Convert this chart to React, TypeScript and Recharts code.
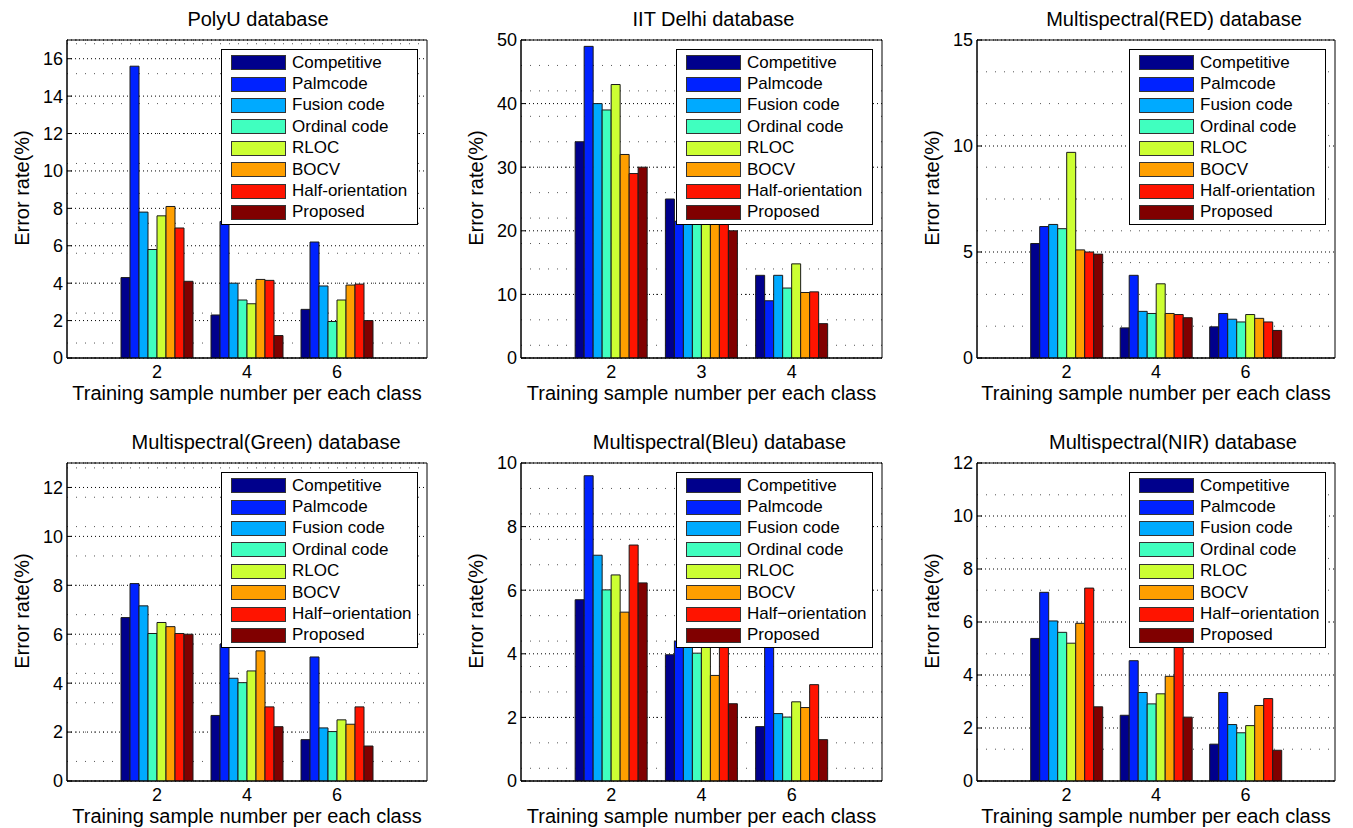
import React from 'react';
import { BarChart, Bar, XAxis, YAxis, CartesianGrid, Legend, ReferenceArea } from 'recharts';

const FONT = "'Liberation Sans', Arial, Helvetica, sans-serif";

const METHODS = ['Competitive', 'Palmcode', 'Fusion code', 'Ordinal code', 'RLOC', 'BOCV', 'Half-orientation', 'Proposed'];
// the lower row of the figure prints the dash as a minus sign
const METHODS_MINUS = ['Competitive', 'Palmcode', 'Fusion code', 'Ordinal code', 'RLOC', 'BOCV', 'Half\u2212orientation', 'Proposed'];
const METHOD_COLORS = ['#00008c', '#0022ff', '#00aaff', '#40ffbf', '#ccff33', '#ff9f00', '#ff1400', '#800000'];

const TRAINING_COUNTS = [2, 4, 6];
const IIT_TRAINING_COUNTS = [2, 3, 4];

// error rate (%) : one row per method, one value per training count
// (values partly hidden by the legend are estimated from the visible part)
const POLYU_ERRORS = [
  [4.3, 2.3, 2.6],
  [15.6, 7.3, 6.2],
  [7.8, 4.0, 3.85],
  [5.8, 3.1, 1.95],
  [7.6, 2.9, 3.1],
  [8.1, 4.2, 3.9],
  [6.95, 4.15, 3.95],
  [4.1, 1.2, 2.0],
];

const IIT_ERRORS = [
  [34, 25, 13],
  [49, 21.5, 9],
  [40, 24, 13],
  [39, 23, 11],
  [43, 27, 14.8],
  [32, 22, 10.3],
  [29, 22, 10.4],
  [30, 20, 5.4],
];

const RED_ERRORS = [
  [5.4, 1.42, 1.47],
  [6.2, 3.9, 2.1],
  [6.3, 2.2, 1.83],
  [6.1, 2.1, 1.7],
  [9.7, 3.5, 2.05],
  [5.1, 2.1, 1.87],
  [5.0, 2.05, 1.7],
  [4.9, 1.9, 1.3],
];

const GREEN_ERRORS = [
  [6.68, 2.68, 1.69],
  [8.07, 5.6, 5.07],
  [7.16, 4.2, 2.17],
  [6.03, 4.02, 2.02],
  [6.48, 4.5, 2.5],
  [6.31, 5.32, 2.32],
  [6.03, 3.03, 3.03],
  [6.0, 2.22, 1.43],
];

const BLEU_ERRORS = [
  [5.7, 3.97, 1.71],
  [9.6, 4.4, 4.8],
  [7.1, 4.5, 2.12],
  [6.01, 4.02, 2.01],
  [6.48, 4.6, 2.49],
  [5.31, 3.32, 2.31],
  [7.42, 5.0, 3.03],
  [6.23, 2.43, 1.3],
];

const NIR_ERRORS = [
  [5.38, 2.48, 1.39],
  [7.12, 4.54, 3.34],
  [6.04, 3.34, 2.13],
  [5.61, 2.91, 1.82],
  [5.2, 3.29, 2.09],
  [5.95, 3.95, 2.85],
  [7.28, 5.6, 3.11],
  [2.8, 2.41, 1.16],
];

const TICKS_0_16 = [0, 2, 4, 6, 8, 10, 12, 14, 16];
const TICKS_0_50 = [0, 10, 20, 30, 40, 50];
const TICKS_0_15 = [0, 5, 10, 15];
const TICKS_0_12 = [0, 2, 4, 6, 8, 10, 12];
const TICKS_0_10 = [0, 2, 4, 6, 8, 10];

type Panel = {
  title: string;
  methods: string[];
  counts: number[];
  errors: number[][];
  xDomain: [number, number];
  yMax: number;
  yTicks: number[];
  minorStep: number;
  // plot box in page pixels
  box: { left: number; top: number; width: number; height: number };
  titleDx: number;
};

const PANELS: Panel[] = [
  { title: 'PolyU database', methods: METHODS, counts: TRAINING_COUNTS, errors: POLYU_ERRORS, xDomain: [0, 8], yMax: 17, yTicks: TICKS_0_16, minorStep: 0.4, box: { left: 67, top: 40, width: 360, height: 318 }, titleDx: 11 },
  { title: 'IIT Delhi database', methods: METHODS, counts: IIT_TRAINING_COUNTS, errors: IIT_ERRORS, xDomain: [1, 5], yMax: 50, yTicks: TICKS_0_50, minorStep: 2, box: { left: 521, top: 40, width: 361, height: 318 }, titleDx: 12 },
  { title: 'Multispectral(RED) database', methods: METHODS, counts: TRAINING_COUNTS, errors: RED_ERRORS, xDomain: [0, 8], yMax: 15, yTicks: TICKS_0_15, minorStep: 0.5, box: { left: 977, top: 40, width: 358, height: 318 }, titleDx: 18 },
  { title: 'Multispectral(Green) database', methods: METHODS_MINUS, counts: TRAINING_COUNTS, errors: GREEN_ERRORS, xDomain: [0, 8], yMax: 13, yTicks: TICKS_0_12, minorStep: 0.4, box: { left: 67, top: 463, width: 360, height: 318 }, titleDx: 19 },
  { title: 'Multispectral(Bleu) database', methods: METHODS_MINUS, counts: TRAINING_COUNTS, errors: BLEU_ERRORS, xDomain: [0, 8], yMax: 10, yTicks: TICKS_0_10, minorStep: 0.4, box: { left: 521, top: 463, width: 361, height: 318 }, titleDx: 18 },
  { title: 'Multispectral(NIR) database', methods: METHODS_MINUS, counts: TRAINING_COUNTS, errors: NIR_ERRORS, xDomain: [0, 8], yMax: 12, yTicks: TICKS_0_12, minorStep: 0.4, box: { left: 977, top: 463, width: 358, height: 318 }, titleDx: 17 },
];

const Y_AXIS_W = 70;
const TOP_M = 40;
const X_AXIS_H = 40;
const RIGHT_M = 20;
const LEGEND_W = 197;
const LEGEND_H = 176;

function gridSteps(max: number, step: number): number[] {
  const out: number[] = [];
  for (let i = 0; i * step <= max + 1e-9; i++) out.push(+(i * step).toFixed(4));
  return out;
}

function buildRows(p: Panel) {
  return p.counts.map((c, i) => {
    const row: Record<string, number | string> = { label: String(c), pos: c };
    p.methods.forEach((_, k) => { row[`m${k}`] = p.errors[k][i]; });
    return row;
  });
}

function makeLegend(methods: string[]) {
  return (props: any) => {
    const items = [...(props.payload ?? [])].sort(
      (a: any, b: any) => methods.indexOf(a.value) - methods.indexOf(b.value),
    );
    return (
      <div style={{
        width: LEGEND_W, height: LEGEND_H, boxSizing: 'border-box', border: '1px solid #000',
        background: '#fff', paddingTop: 2, fontFamily: FONT, fontSize: 17, color: '#000',
      }}>
        {items.map((entry: any) => (
          <div key={entry.value} style={{ display: 'flex', alignItems: 'center', height: 21.4 }}>
            <span style={{
              display: 'inline-block', width: 55, height: 15, marginLeft: 9, marginRight: 6,
              boxSizing: 'border-box', border: '1px solid #333',
              background: METHOD_COLORS[methods.indexOf(entry.value)],
            }} />
            <span style={{ whiteSpace: 'nowrap' }}>{entry.value}</span>
          </div>
        ))}
      </div>
    );
  };
}

function ErrorPanel({ p }: { p: Panel }) {
  const { box } = p;
  const rows = buildRows(p);
  const span = p.xDomain[1] - p.xDomain[0];
  const step = p.counts[1] - p.counts[0];
  const padL = (box.width * (p.counts[0] - p.xDomain[0] - step / 2)) / span;
  const padR = (box.width * (p.xDomain[1] - p.counts[p.counts.length - 1] - step / 2)) / span;
  const tickStyle = { fontSize: 18, fill: '#000', fontFamily: FONT };

  return (
    <>
      <div style={{
        position: 'absolute', left: box.left + box.width / 2 + p.titleDx, top: box.top - 21,
        transform: 'translate(-50%, -50%)', whiteSpace: 'nowrap', fontSize: 20, lineHeight: 1,
      }}>{p.title}</div>
      <div style={{
        position: 'absolute', left: box.left + box.width / 2, top: box.top + box.height + 35,
        transform: 'translate(-50%, -50%)', whiteSpace: 'nowrap', fontSize: 20, lineHeight: 1,
      }}>Training sample number per each class</div>
      <div style={{
        position: 'absolute', left: box.left - 45, top: box.top + box.height / 2 - 11,
        transform: 'translate(-50%, -50%) rotate(-90deg)', whiteSpace: 'nowrap', fontSize: 20, lineHeight: 1,
      }}>Error rate(%)</div>

      <div style={{ position: 'absolute', left: box.left - Y_AXIS_W, top: box.top - TOP_M }}>
        <BarChart
          width={box.width + Y_AXIS_W + RIGHT_M}
          height={box.height + TOP_M + X_AXIS_H}
          data={rows}
          margin={{ top: TOP_M, right: RIGHT_M, bottom: 0, left: 0 }}
          barCategoryGap="10%"
          barGap={0}
        >
          <CartesianGrid yAxisId="minor" vertical={false} stroke="#555" strokeDasharray="1 8" />
          <CartesianGrid vertical={false} stroke="#000" strokeDasharray="1 3" />

          <XAxis
            dataKey="label"
            type="category"
            padding={{ left: padL, right: padR }}
            tickLine={false}
            tickSize={0}
            tickMargin={7}
            height={X_AXIS_H}
            axisLine={{ stroke: '#000' }}
            tick={tickStyle}
            interval={0}
          />
          <XAxis xAxisId="frame" dataKey="pos" type="number" domain={p.xDomain} allowDataOverflow hide />
          {/* MATLAB-style ticks point into the box */}
          <YAxis
            type="number"
            domain={[0, p.yMax]}
            ticks={p.yTicks}
            allowDataOverflow
            width={Y_AXIS_W}
            tickLine={{ stroke: '#000' }}
            tickSize={-5}
            tickMargin={9}
            axisLine={{ stroke: '#000' }}
            tick={tickStyle}
            interval={0}
          />
          <YAxis
            yAxisId="right"
            orientation="right"
            type="number"
            domain={[0, p.yMax]}
            ticks={p.yTicks}
            allowDataOverflow
            width={0}
            tick={false}
            tickLine={{ stroke: '#000' }}
            tickSize={-5}
            axisLine={{ stroke: '#000' }}
            interval={0}
          />
          <YAxis
            yAxisId="minor"
            type="number"
            domain={[0, p.yMax]}
            ticks={gridSteps(p.yMax, p.minorStep)}
            allowDataOverflow
            hide
          />

          <ReferenceArea
            xAxisId="frame"
            yAxisId="minor"
            x1={p.xDomain[0]}
            x2={p.xDomain[1]}
            y1={0}
            y2={p.yMax}
            fill="none"
            fillOpacity={0}
            stroke="#000"
            strokeWidth={1}
          />

          {p.methods.map((m, k) => (
            <Bar
              key={m}
              dataKey={`m${k}`}
              name={m}
              fill={METHOD_COLORS[k]}
              stroke="#1a1a1a"
              strokeWidth={1}
              isAnimationActive={false}
            />
          ))}

          <Legend
            layout="vertical"
            align="center"
            verticalAlign="middle"
            content={makeLegend(p.methods)}
            wrapperStyle={{
              top: TOP_M + 9,
              left: Y_AXIS_W + box.width - 9 - LEGEND_W,
              width: LEGEND_W,
              height: LEGEND_H,
            }}
          />
        </BarChart>
      </div>
    </>
  );
}

export default function App() {
  return (
    <div style={{
      position: 'absolute', left: 0, top: 0, width: 1353, height: 828,
      background: '#fff', fontFamily: FONT, color: '#000', overflow: 'hidden',
    }}>
      {PANELS.map(p => <ErrorPanel key={p.title} p={p} />)}
    </div>
  );
}
